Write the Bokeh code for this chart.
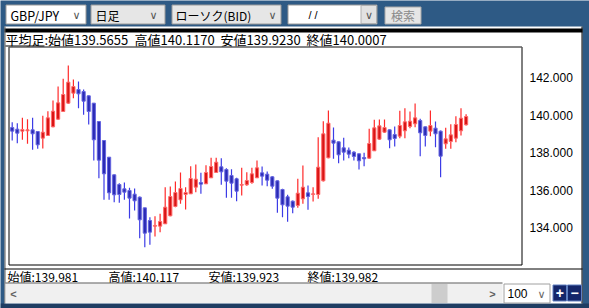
from bokeh.plotting import figure
from bokeh.models import Range1d, ColumnDataSource
from bokeh.core.properties import value
from bokeh.embed import file_html
from bokeh.resources import INLINE

# ---------------- data ----------------
opens = [139.334, 139.245, 139.138, 139.156, 139.209, 139.120, 138.765, 138.907, 139.369, 139.778,
         140.187, 140.632, 141.165, 141.360, 141.254, 141.023, 140.632, 139.654, 138.640, 137.751,
         136.809, 136.294, 136.062, 135.974, 135.778, 135.618, 135.049, 134.373, 134.071, 134.071,
         134.196, 134.622, 135.120, 135.476, 135.760, 135.796, 136.151, 136.400, 136.329, 136.649,
         136.934, 137.236, 137.094, 136.774, 136.596, 136.258, 136.276, 136.400, 136.649, 136.916,
         136.844, 136.702, 136.489, 136.027, 135.636, 135.404, 135.173, 135.529, 135.849, 135.760,
         135.760, 136.489, 137.716, 138.658, 138.569, 138.249, 138.124, 138.018, 137.929, 137.733,
         137.698, 138.089, 138.711, 139.084, 139.209, 138.960, 138.871, 139.156, 139.387, 139.529,
         139.707, 139.369, 139.138, 139.298, 139.138, 138.462, 138.587, 138.764, 139.156, 139.476]
highs = [139.618, 139.565, 139.849, 139.778, 139.849, 139.138, 139.956, 140.205, 140.774, 141.520,
         141.929, 142.640, 141.894, 141.787, 141.360, 141.040, 140.632, 139.671, 138.640, 137.751,
         136.827, 136.364, 136.400, 136.116, 136.080, 135.654, 135.049, 134.551, 134.605, 134.729,
         136.151, 136.187, 136.454, 136.934, 136.151, 137.271, 137.360, 136.916, 137.325, 137.716,
         137.716, 137.698, 137.165, 137.111, 136.649, 137.183, 136.951, 137.183, 137.574, 137.253,
         136.987, 136.738, 136.507, 136.062, 135.742, 135.440, 136.596, 137.307, 136.240, 136.151,
         138.818, 139.671, 140.240, 139.333, 138.587, 138.782, 138.267, 138.071, 137.947, 137.982,
         139.262, 139.742, 139.760, 139.760, 139.227, 139.387, 140.222, 140.364, 140.187, 140.613,
         139.796, 139.387, 140.240, 139.653, 139.173, 139.316, 139.511, 139.938, 140.364, 140.044]
lows = [138.640, 138.498, 138.676, 138.463, 138.143, 138.196, 138.214, 138.889, 139.351, 139.743,
        140.187, 140.596, 140.898, 140.365, 140.009, 139.494, 137.574, 136.631, 135.476, 135.476,
        135.351, 135.316, 135.476, 134.480, 134.907, 133.432, 132.952, 133.076, 133.520, 133.751,
        134.196, 134.605, 135.085, 135.263, 134.960, 135.796, 135.885, 135.796, 136.329, 136.649,
        136.934, 136.276, 135.583, 135.583, 135.405, 135.707, 136.222, 136.329, 136.649, 136.240,
        136.204, 136.062, 134.782, 134.551, 134.302, 134.764, 135.049, 135.262, 134.942, 135.387,
        135.529, 136.453, 137.698, 137.662, 137.431, 137.573, 137.698, 137.573, 137.093, 137.271,
        137.662, 138.089, 138.676, 139.049, 138.231, 138.320, 138.764, 138.764, 139.298, 139.351,
        137.804, 138.320, 138.871, 138.284, 136.684, 138.196, 138.196, 138.551, 138.907, 139.440]
closes = [139.138, 139.031, 139.227, 139.209, 138.996, 138.409, 139.085, 139.849, 140.205, 140.649,
          141.094, 141.751, 141.520, 141.129, 140.738, 140.187, 138.676, 137.592, 136.862, 135.849,
          135.742, 135.760, 135.885, 135.565, 135.423, 134.409, 133.698, 133.751, 134.107, 134.320,
          135.085, 135.654, 135.867, 136.080, 135.867, 136.614, 136.579, 136.311, 136.934, 137.254,
          137.485, 136.969, 136.471, 136.364, 135.938, 136.294, 136.507, 136.862, 137.183, 136.738,
          136.524, 136.204, 135.564, 135.209, 135.138, 135.084, 135.831, 136.151, 135.653, 135.796,
          137.218, 138.996, 139.564, 138.498, 137.876, 138.018, 137.911, 137.787, 137.556, 137.662,
          138.480, 139.316, 139.422, 139.333, 138.676, 138.747, 139.440, 139.636, 139.671, 139.849,
          139.049, 138.907, 139.440, 138.996, 137.804, 138.729, 138.942, 139.493, 139.831, 139.920]

tick_values = [134, 136, 138, 140, 142]
tick_labels = ["134.000", "136.000", "138.000", "140.000", "142.000"]

header_texts = ["平均足:始値139.5655", "高値140.1170", "安値139.9230", "終値140.0007"]
footer_texts = ["始値:139.981", "高値:140.117", "安値:139.923", "終値:139.982"]
pair_label = "GBP/JPY"
period_label = "日足"
chart_type_label = "ローソク(BID)"
search_label = "検索"
count_label = "100"

# ---------------- styling / layout ----------------
W, H = 589, 308
BLUE = "#2e5a85"
JP = value("Noto Sans CJK JP")
LAT = value("Liberation Sans")

SLOT_PX = 5.1          # pixel width of one candle slot
FIRST_X = 11.7         # pixel x of first candle
PX_PER_PRICE = 18.75   # pixels per price unit
Y_TOP_TICK = 77.0      # pixel y of top tick

p = figure(width=W, height=H, x_range=Range1d(0, W), y_range=Range1d(H, 0),
           output_backend="svg", toolbar_location=None, min_border=0,
           x_axis_location=None, y_axis_location=None)
p.grid.visible = False
p.outline_line_color = None
p.background_fill_color = BLUE
p.border_fill_color = BLUE

idx_start = -FIRST_X / SLOT_PX
p.extra_x_ranges = {"idx": Range1d(idx_start, idx_start + W / SLOT_PX)}
top_price = tick_values[-1] + Y_TOP_TICK / PX_PER_PRICE
p.extra_y_ranges = {"price": Range1d(top_price - H / PX_PER_PRICE, top_price)}


def box(l, t, r, b, fill, line=None, lw=1):
    p.quad(left=[l], right=[r], top=[t], bottom=[b], fill_color=fill,
           line_color=line, line_width=lw)


def hline(x0, x1, y, color, lw=1):
    p.segment(x0=[x0], y0=[y], x1=[x1], y1=[y], line_color=color, line_width=lw)


def vline(x, y0, y1, color, lw=1):
    p.segment(x0=[x], y0=[y0], x1=[x], y1=[y1], line_color=color, line_width=lw)


def txt(x, y, s, size, font=JP, color="#000000", align="left", style="normal"):
    p.text(x=[x], y=[y], text=[s], text_font=font, text_font_size=size,
           text_color=color, text_align=align, text_baseline="middle",
           text_font_style=style)


# bottom strip
box(0, 303, W, H, "#1f3d62")

# ---- top bar controls ----
box(5.5, 4.5, 85.5, 23.5, "#ffffff", "#9a9a9a")
txt(10, 14.5, pair_label, "12.5px")
txt(76, 15, "∨", "11px", value("DejaVu Sans"), "#555555", "center")

box(90.5, 4.5, 164.5, 23.5, "#e6e6e6", "#9a9a9a")
txt(95, 14.5, period_label, "12px")
txt(153, 15, "∨", "11px", value("DejaVu Sans"), "#555555", "center")

box(171.5, 4.5, 280.5, 23.5, "#e6e6e6", "#9a9a9a")
txt(175, 14.5, chart_type_label, "12px")
txt(272, 15, "∨", "11px", value("DejaVu Sans"), "#555555", "center")

box(287.5, 4.5, 376.5, 23.5, "#ffffff", "#9a9a9a")
box(360.5, 5, 376, 23, "#e2e2e2", "#b0b0b0")
txt(308, 14.5, "/  /", "11px", LAT)
txt(368.5, 15, "∨", "11px", value("DejaVu Sans"), "#555555", "center")

box(384.5, 6.5, 420.5, 23.5, "#e6e6e6", "#a8a8a8")
txt(402.5, 15, search_label, "12px", JP, "#8a8a8a", "center")

# ---- white panel ----
box(4, 26, 582, 303, "#ffffff")
box(4, 28, 582, 32, "#000000")
vline(4.5, 26, 303, "#5a5a5a")
vline(581.5, 26, 303, "#000000")

# header
header_x = [5, 134, 220, 306]
for hx, s in zip(header_x, header_texts):
    txt(hx, 38.5, s, "13px")
hline(5, 44, 45.5, "#000000")

# chart frame
box(8.5, 46.5, 521.5, 264.5, "#ffffff", "#000000")
hline(8.5, 521.5, 46.5, "#8c8c8c")
hline(4, 582, 268.5, "#000000")

# price labels through the price scale
p.text(x=[529] * len(tick_values), y=tick_values, text=tick_labels,
       text_font=LAT, text_font_size="12px", text_color="#000000",
       text_align="left", text_baseline="middle", y_range_name="price")

# footer info
footer_x = [7, 108, 208, 307]
for fx, s in zip(footer_x, footer_texts):
    txt(fx, 276, s, "12px")

# scrollbar
box(5, 283, 502, 302.5, "#f0f0f0")
hline(5, 502, 282.5, "#5a5a5a")
box(431, 283.5, 447, 302.5, "#cdcdcd")
txt(13, 293, "<", "11px", LAT, "#606060", "center", "bold")
txt(492, 293, ">", "11px", LAT, "#606060", "center", "bold")

box(503.5, 283.5, 549.5, 302.5, "#ffffff", "#a0a0a0")
txt(507, 293, count_label, "12px", LAT)
txt(541, 293.5, "∨", "11px", value("DejaVu Sans"), "#666666", "center")

box(552.5, 284.5, 566, 300.5, "#14266a", "#5f7fc0")
box(567, 284.5, 581, 300.5, "#14266a", "#5f7fc0")
txt(559.3, 292.5, "+", "14px", LAT, "#ffffff", "center", "bold")
txt(574, 292.5, "−", "14px", LAT, "#ffffff", "center", "bold")

# ---- candles ----
n = len(opens)
up = [c > o for o, c in zip(opens, closes)]
src = ColumnDataSource(dict(
    i=list(range(n)),
    high=highs,
    low=lows,
    top=[max(o, c) for o, c in zip(opens, closes)],
    bottom=[min(o, c) for o, c in zip(opens, closes)],
    wick=["#ff2a2a" if u else "#3c3ce6" for u in up],
    fill=["#d91515" if u else "#2a2ab4" for u in up],
    edge=["#ff6a6a" if u else "#6464e0" for u in up],
))
p.segment(x0="i", y0="high", x1="i", y1="low", source=src, line_color="wick",
          line_width=1.2, x_range_name="idx", y_range_name="price")
p.vbar(x="i", width=0.62, top="top", bottom="bottom", source=src,
       fill_color="fill", line_color="edge", line_width=1,
       x_range_name="idx", y_range_name="price")

open("out.html", "w").write(file_html(p, INLINE))
